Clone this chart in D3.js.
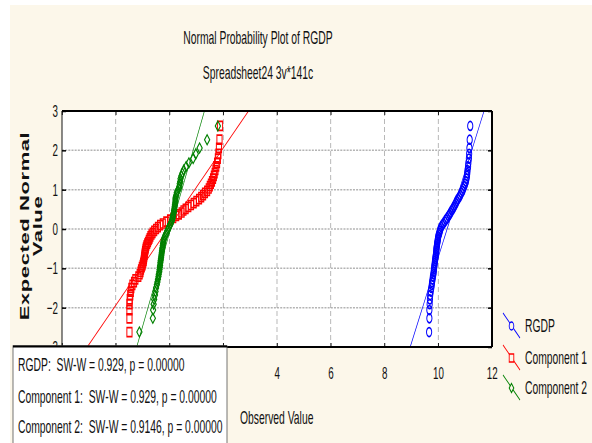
<!DOCTYPE html>
<html>
<head>
<meta charset="utf-8">
<script src="https://cdn.jsdelivr.net/npm/d3@7"></script>
<style>
  body { margin: 0; background: #fff; }
  text { font-family: 'Liberation Sans', Arial, sans-serif; fill: #111; white-space: pre; }
</style>
</head>
<body>
<div id="display"></div>
<script>
// expected normal values, shared by the three series (same case count)
const expected = [-2.62, -2.27, -2.06, -1.91, -1.79, -1.68, -1.59, -1.50, -1.42, -1.35,
  -1.28, -1.21, -1.15, -1.09, -1.03, -0.97, -0.92, -0.86, -0.81, -0.76,
  -0.71, -0.66, -0.61, -0.56, -0.51, -0.47, -0.42, -0.37, -0.33, -0.28,
  -0.24, -0.19, -0.14, -0.10, -0.05, 0.00, 0.05, 0.10, 0.14, 0.19,
  0.24, 0.28, 0.33, 0.37, 0.42, 0.47, 0.51, 0.56, 0.61, 0.66,
  0.71, 0.76, 0.81, 0.86, 0.92, 0.97, 1.03, 1.09, 1.15, 1.21,
  1.28, 1.35, 1.42, 1.50, 1.59, 1.68, 1.79, 1.91, 2.06, 2.27, 2.62];

// observed values, sorted, one per expected value
const rgdp = [9.66, 9.67, 9.67, 9.68, 9.69, 9.70, 9.72, 9.74, 9.76, 9.77,
  9.79, 9.80, 9.82, 9.83, 9.84, 9.85, 9.86, 9.87, 9.88, 9.89,
  9.90, 9.91, 9.92, 9.93, 9.93, 9.94, 9.95, 9.96, 9.97, 9.98,
  9.99, 10.00, 10.02, 10.04, 10.06, 10.08, 10.11, 10.15, 10.19, 10.24,
  10.29, 10.33, 10.38, 10.42, 10.46, 10.50, 10.54, 10.58, 10.62, 10.66,
  10.69, 10.73, 10.78, 10.82, 10.86, 10.90, 10.93, 10.97, 11.00, 11.03,
  11.05, 11.07, 11.08, 11.09, 11.11, 11.12, 11.14, 11.15, 11.16, 11.17, 11.19];

const comp1 = [-1.49, -1.49, -1.49, -1.49, -1.48, -1.46, -1.44, -1.42, -1.38, -1.32,
  -1.27, -1.16, -1.11, -1.08, -1.06, -1.03, -1.00, -0.98, -0.96, -0.95,
  -0.94, -0.93, -0.92, -0.91, -0.89, -0.88, -0.86, -0.83, -0.80, -0.77,
  -0.74, -0.71, -0.67, -0.63, -0.57, -0.50, -0.43, -0.35, -0.25, -0.12,
  0.02, 0.14, 0.25, 0.35, 0.45, 0.52, 0.60, 0.70, 0.80, 0.90,
  1.00, 1.10, 1.18, 1.25, 1.32, 1.40, 1.46, 1.50, 1.54, 1.58,
  1.62, 1.65, 1.68, 1.71, 1.74, 1.77, 1.80, 1.82, 1.84, 1.86, 1.88];

const comp2 = [-1.12, -0.62, -0.61, -0.59, -0.57, -0.54, -0.52, -0.50, -0.47, -0.45,
  -0.43, -0.41, -0.40, -0.38, -0.37, -0.36, -0.35, -0.34, -0.33, -0.32,
  -0.31, -0.30, -0.29, -0.28, -0.27, -0.26, -0.25, -0.24, -0.23, -0.22,
  -0.20, -0.17, -0.14, -0.11, -0.08, -0.05, -0.02, 0.02, 0.05, 0.08,
  0.10, 0.12, 0.13, 0.14, 0.16, 0.17, 0.18, 0.19, 0.20, 0.21,
  0.22, 0.22, 0.23, 0.25, 0.27, 0.30, 0.35, 0.37, 0.38, 0.40,
  0.41, 0.44, 0.48, 0.53, 0.62, 0.72, 0.88, 0.98, 1.12, 1.40, 1.80];

const seriesNames = ['RGDP', 'Component 1', 'Component 2'];
const seriesColors = ['#0000ff', '#ff0000', '#008000'];
const seriesShapes = ['circle', 'square', 'diamond'];
// fitted normal lines: observed = intercept + slope * expected
const fitIntercept = [10.33, -0.06, 0.04];
const fitSlope = [0.458, 1.0, 0.42];

const statsLines = ['RGDP:  SW-W = 0.929, p = 0.00000',
  'Component 1:  SW-W = 0.929, p = 0.00000',
  'Component 2:  SW-W = 0.9146, p = 0.00000'];
const xTicks = [-4, -2, 0, 2, 4, 6, 8, 10, 12];
const yTicks = [-3, -2, -1, 0, 1, 2, 3];

const W = 592, H = 443;
// the whole picture is squeezed horizontally, so draw wide and scale x
const sx = 0.575;
const X = px => px / sx;
let plot = {left: X(62), right: X(492), top: 111, bottom: 347};

let xScale = d3.scaleLinear().domain([-4, 12]).range([plot.left, plot.right]);
let yScale = d3.scaleLinear().domain([-3, 3]).range([plot.bottom, plot.top]);

let svg = d3.select('#display').append('svg')
    .attr('width', W).attr('height', H);
svg.append('rect').attr('width', W).attr('height', H).attr('fill', '#fff');

svg.append('defs').append('clipPath').attr('id', 'clip')
  .append('rect')
    .attr('x', plot.left).attr('y', plot.top)
    .attr('width', plot.right - plot.left).attr('height', plot.bottom - plot.top);

let g = svg.append('g').attr('transform', `scale(${sx},1)`);

// cream page background and white plot area
g.append('rect').attr('x', X(10)).attr('y', 5)
  .attr('width', X(W)).attr('height', H).attr('fill', '#fcf7ea');
g.append('rect')
  .attr('x', plot.left).attr('y', plot.top)
  .attr('width', plot.right - plot.left).attr('height', plot.bottom - plot.top)
  .attr('fill', '#fff');

// grid
g.append('g').selectAll('line')
  .data(yTicks.filter(d => d > -3 && d < 3))
  .join('line')
    .attr('x1', plot.left).attr('x2', plot.right)
    .attr('y1', d => yScale(d)).attr('y2', d => yScale(d))
    .attr('stroke', '#b4b4b4').attr('stroke-width', 1.5)
    .attr('stroke-dasharray', '3.5,2');
g.append('g').selectAll('line')
  .data(xTicks.filter(d => d > -4 && d < 12))
  .join('line')
    .attr('x1', d => xScale(d)).attr('x2', d => xScale(d))
    .attr('y1', plot.top).attr('y2', plot.bottom)
    .attr('stroke', '#999').attr('stroke-width', 1.2)
    .attr('stroke-dasharray', '5,3');

// axes (inside ticks on all four sides)
let noDomain = sel => sel.select('.domain').remove();
// the stats box hides the low x labels, so only the visible ones get text
let xLabel = d => d >= 4 ? d3.format('d')(d) : '';
let yAxis = g.append('g')
    .attr('transform', `translate(${plot.left},0)`)
    .call(d3.axisLeft(yScale).tickValues(yTicks).tickSize(-7).tickPadding(7).tickFormat(d3.format('d')))
    .call(noDomain);
g.append('g')
    .attr('transform', `translate(${plot.right},0)`)
    .call(d3.axisRight(yScale).tickValues(yTicks).tickSize(-7).tickFormat(''))
    .call(noDomain);
let xAxis = g.append('g')
    .attr('transform', `translate(0,${plot.bottom})`)
    .call(d3.axisBottom(xScale).tickValues(xTicks).tickSize(-4).tickPadding(20).tickFormat(xLabel))
    .call(noDomain);
g.append('g')
    .attr('transform', `translate(0,${plot.top})`)
    .call(d3.axisTop(xScale).tickValues(xTicks).tickSize(-4).tickFormat(''))
    .call(noDomain);
g.selectAll('.tick line').attr('stroke', '#000').attr('stroke-width', 1.5);
yAxis.selectAll('text').style('font-size', '17px').attr('fill', '#111');
xAxis.selectAll('text').style('font-size', '17px').attr('fill', '#111');

// fitted lines and points
let series = [rgdp, comp1, comp2];
let marks = g.append('g').attr('clip-path', 'url(#clip)');

let symbolPath = (shape, s) => {
  if (shape === 'square') return `M${-s},${-s}H${s}V${s}H${-s}Z`;
  if (shape === 'diamond') return `M0,${-s - 0.5}L${s},0L0,${s + 0.5}L${-s},0Z`;
  return d3.symbol(d3.symbolCircle, Math.PI * s * s)();
};

series.forEach((vals, i) => {
  let lineY = [-3, 3];
  marks.append('line')
    .attr('x1', xScale(fitIntercept[i] + fitSlope[i] * lineY[0]))
    .attr('y1', yScale(lineY[0]))
    .attr('x2', xScale(fitIntercept[i] + fitSlope[i] * lineY[1]))
    .attr('y2', yScale(lineY[1]))
    .attr('stroke', seriesColors[i]).attr('stroke-width', 1.1);
});

series.forEach((vals, i) => {
  marks.append('g').selectAll('path')
    .data(vals.map((v, k) => ({x: v, y: expected[k]})))
    .join('path')
      .attr('transform', d => `translate(${xScale(d.x)},${yScale(d.y)})`)
      .attr('d', symbolPath(seriesShapes[i], 4.5))
      .attr('fill', 'none')
      .attr('stroke', seriesColors[i])
      .attr('stroke-width', 1.7);
});

// plot frame
g.append('line').attr('x1', plot.left).attr('x2', plot.right)
  .attr('y1', plot.top).attr('y2', plot.top).attr('stroke', '#000').attr('stroke-width', 2);
g.append('line').attr('x1', plot.left).attr('x2', plot.right)
  .attr('y1', plot.bottom).attr('y2', plot.bottom).attr('stroke', '#000').attr('stroke-width', 2);
g.append('line').attr('x1', plot.left).attr('x2', plot.left)
  .attr('y1', plot.top).attr('y2', plot.bottom).attr('stroke', '#000').attr('stroke-width', 1.6);
g.append('line').attr('x1', plot.right).attr('x2', plot.right)
  .attr('y1', plot.top).attr('y2', plot.bottom).attr('stroke', '#000').attr('stroke-width', 3.5);

// titles
g.append('text').attr('x', X(258)).attr('y', 44)
  .attr('text-anchor', 'middle').style('font-size', '18px')
  .text('Normal Probability Plot of RGDP');
g.append('text').attr('x', X(258)).attr('y', 79)
  .attr('text-anchor', 'middle').style('font-size', '18px')
  .text('Spreadsheet24 3v*141c');

// y axis title, two lines
let yTitle = ['Expected Normal', 'Value'];
let yTitleX = [29, 42];
yTitle.forEach((t, i) => {
  g.append('text')
    .attr('transform', `translate(${X(yTitleX[i])},226) rotate(-90)`)
    .attr('text-anchor', 'middle')
    .style('font-size', '22px').style('font-weight', 'bold')
    .style('letter-spacing', '0.6px')
    .text(t);
});

g.append('text').attr('x', X(240)).attr('y', 424)
  .style('font-size', '18px').text('Observed Value');

// stats box covers the lower left corner
g.append('rect')
  .attr('x', X(13)).attr('y', 346)
  .attr('width', X(227) - X(13)).attr('height', 110)
  .attr('fill', '#fff').attr('stroke', '#555').attr('stroke-width', 1.4);
g.append('line').attr('x1', X(13)).attr('x2', X(227))
  .attr('y1', 346.5).attr('y2', 346.5).attr('stroke', '#000').attr('stroke-width', 2);
let statsY = [371, 403, 433];
statsLines.forEach((t, i) => {
  g.append('text').attr('x', X(18)).attr('y', statsY[i])
    .style('font-size', '18px').text(t);
});

// legend
let legendY = [326, 358, 388];
let legend = g.append('g');
seriesNames.forEach((name, i) => {
  let cy = legendY[i];
  legend.append('line')
    .attr('x1', X(503)).attr('y1', cy - 13)
    .attr('x2', X(520)).attr('y2', cy + 12)
    .attr('stroke', seriesColors[i]).attr('stroke-width', 1.2);
  legend.append('path')
    .attr('transform', `translate(${X(511.5)},${cy})`)
    .attr('d', symbolPath(seriesShapes[i], 4))
    .attr('fill', '#fcf7ea')
    .attr('stroke', seriesColors[i]).attr('stroke-width', 1.5);
  legend.append('text')
    .attr('x', X(525)).attr('y', cy + 6)
    .style('font-size', '18px').text(name);
});
</script>
</body>
</html>
